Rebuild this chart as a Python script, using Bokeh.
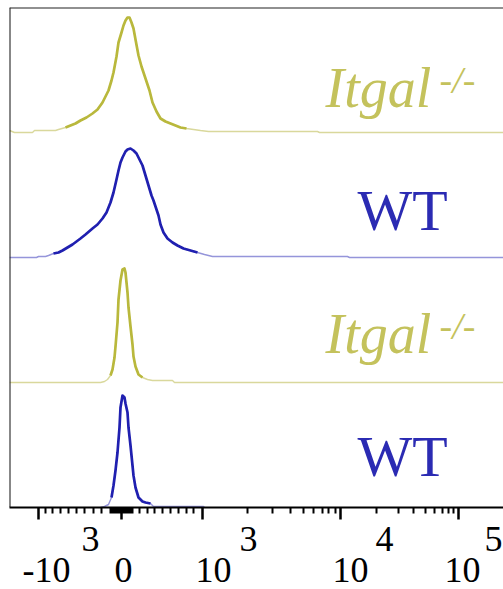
from bokeh.plotting import figure
from bokeh.models import Range1d, FixedTicker, Span, Label, LinearAxis
from bokeh.embed import file_html
from bokeh.resources import INLINE

# ---- data (x in display channels, y = normalized counts) ----
itgal_broad_x = [0, 5, 23, 25, 46, 49, 56, 61, 66, 71, 77, 83, 88, 93, 97, 99, 102, 104, 107, 109, 112, 114, 116, 118,
                 120, 122, 124, 126, 129, 132, 136, 140, 143, 147, 151, 156, 161, 166, 171, 177, 184, 191, 199, 308, 310, 494]
itgal_broad_y = [2, 0, 0, 2, 2, 3, 5, 7, 9, 12, 15, 19, 23, 30, 38, 42, 52, 60, 76, 90, 100, 107, 112, 115,
                 115, 110, 104, 93, 77, 66, 54, 42, 30, 21, 14, 11, 9, 7, 5, 4, 3, 2, 1, 1, 0, 0]

wt_broad_x = [0, 27, 29, 36, 39, 44, 49, 53, 58, 63, 67, 71, 76, 83, 88, 93, 97, 101, 104, 107, 109, 111, 113, 116, 118,
              121, 124, 127, 130, 133, 136, 139, 142, 144, 147, 149, 151, 154, 158, 163, 168, 174, 181, 188, 195, 199,
              203, 338, 340, 494]
wt_broad_y = [0, 0, 1, 1, 2, 4, 5, 7, 10, 13, 16, 19, 23, 29, 33, 39, 45, 55, 65, 78, 87, 95, 100, 106, 108,
              109, 107, 104, 98, 92, 82, 72, 62, 57, 48, 42, 33, 25, 19, 15, 12, 9, 7, 5, 3, 2,
              1, 1, 0, 0]

itgal_narrow_x = [0, 91, 95, 98, 101, 103, 105, 106, 108, 109, 111, 113, 115, 116, 118, 119, 121, 123, 124, 126, 129,
                  133, 138, 143, 163, 165, 494]
itgal_narrow_y = [0, 0, 1, 3, 7, 13, 25, 36, 60, 83, 102, 113, 114, 110, 90, 75, 56, 38, 26, 16, 8,
                  5, 3, 2, 2, 0, 0]

wt_narrow_x = [91, 95, 99, 102, 104, 106, 108, 110, 111, 113, 115, 116, 118, 119, 121, 123, 124, 126, 129, 133, 136,
               141, 144, 194, 195]
wt_narrow_y = [0, 1, 3, 10, 22, 37, 55, 80, 100, 112, 110, 104, 95, 80, 62, 42, 32, 20, 10, 6, 5,
               4, 1, 1, 0]

track_names = ["Itgal", "WT", "Itgal", "WT"]
track_sups = ["-/-", "", "-/-", ""]

# axis ticks (channels) and labels
major_ticks = [29, 112, 193, 331, 449]
minor_ticks = [36, 43, 51, 59, 67, 75, 84, 92,
               101, 102, 103, 104, 106, 107, 108, 109, 110, 111, 113, 114, 115, 116, 117, 118, 120, 121, 122, 123,
               130, 138, 145, 153, 161, 169, 177, 184,
               238, 263, 281, 294, 304, 313, 319, 326,
               367, 389, 404, 416, 425, 433, 439, 444]
tick_base = ["-10", "0", "10", "10", "10"]
tick_exp = ["3", "", "3", "4", "5"]

# ---- styling ----
YEL = "#b9b83c"
YEL_THIN = "#d9d89c"
BLU = "#2020b0"
BLU_THIN = "#9595da"
YEL_TXT = "#c4c25c"
BLU_TXT = "#2b2bb3"
SERIF = "Liberation Serif"
base_shift = [8, 2, 11, 10, 4]      # label centre offsets from tick (channels)
exp_shift = [52, 0, 46, 44, 35]

p = figure(width=503, height=589, x_range=Range1d(0, 494), y_range=Range1d(0, 500),
           output_backend="svg", toolbar_location=None, y_axis_location=None,
           min_border_left=9, min_border_right=0, min_border_top=7, min_border_bottom=82)
p.grid.visible = False
p.outline_line_color = None
p.background_fill_color = "white"
p.border_fill_color = "white"

series = [(itgal_broad_x, itgal_broad_y, 375, YEL, YEL_THIN),
          (wt_broad_x, wt_broad_y, 250, BLU, BLU_THIN),
          (itgal_narrow_x, itgal_narrow_y, 125, YEL, YEL_THIN),
          (wt_narrow_x, wt_narrow_y, 0, BLU, BLU_THIN)]

for xs, ys, off, col, thin in series:
    yy = [v + off for v in ys]
    p.line(xs, yy, line_color=thin, line_width=1.4)
    idx = [i for i, v in enumerate(ys) if v >= 4]
    a, b = idx[0], idx[-1] + 1
    p.line(xs[a:b], yy[a:b], line_color=col, line_width=2.7, line_join="round")

# frame borders (left and top)
p.add_layout(Span(location=0, dimension="height", line_color="#111111", line_width=2))
p.add_layout(Span(location=500, dimension="width", line_color="#222222", line_width=2))

# x axis: tick marks
ax = p.xaxis[0]
ax.ticker = FixedTicker(ticks=major_ticks, minor_ticks=minor_ticks)
ax.major_label_overrides = {t: "" for t in major_ticks}
ax.major_label_text_font_size = "1px"
ax.major_label_standoff = 0
ax.axis_line_width = 2
ax.axis_line_color = "black"
ax.major_tick_in = 0
ax.major_tick_out = 12
ax.major_tick_line_width = 2.5
ax.minor_tick_in = 0
ax.minor_tick_out = 6
ax.minor_tick_line_width = 2


def label_axis(positions, texts, standoff):
    a = LinearAxis(ticker=FixedTicker(ticks=positions, minor_ticks=[]),
                   major_label_overrides={pp: t for pp, t in zip(positions, texts)},
                   axis_line_color=None, major_tick_line_color=None, minor_tick_line_color=None,
                   major_tick_in=0, major_tick_out=0, minor_tick_in=0, minor_tick_out=0,
                   major_label_standoff=standoff, major_label_text_font=SERIF,
                   major_label_text_font_size="36px", major_label_text_color="black")
    p.add_layout(a, "below")


exp_pos = [t + s for t, s, e in zip(major_ticks, exp_shift, tick_exp) if e]
exp_txt = [e for e in tick_exp if e]
label_axis(exp_pos, exp_txt, 7)
label_axis([t + s for t, s in zip(major_ticks, base_shift)], tick_base, 4)

# track labels
label_pos = [(316, 420), (348, 297), (316, 174), (348, 51)]
for (lx, ly), name, sup in zip(label_pos, track_names, track_sups):
    if sup:
        p.add_layout(Label(x=lx, y=ly, text=name, text_align="left", text_baseline="alphabetic",
                           text_font=SERIF, text_font_style="italic", text_font_size="56px", text_color=YEL_TXT))
        p.add_layout(Label(x=lx + 114, y=ly + 8, text=sup, text_align="left", text_baseline="alphabetic",
                           text_font=SERIF, text_font_style="italic", text_font_size="38px", text_color=YEL_TXT))
    else:
        p.add_layout(Label(x=lx, y=ly, text=name, text_align="left", text_baseline="alphabetic",
                           text_font=SERIF, text_font_size="58px", text_color=BLU_TXT))

open("out.html", "w").write(file_html(p, INLINE))
